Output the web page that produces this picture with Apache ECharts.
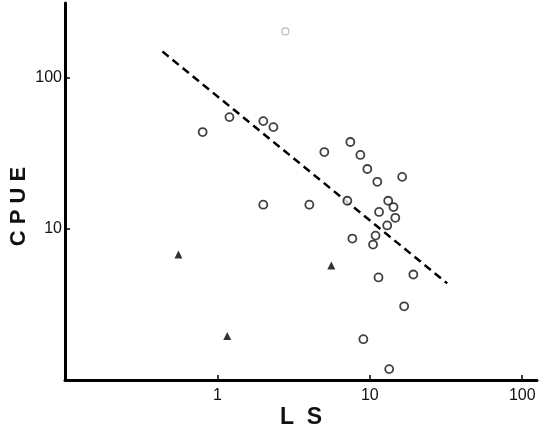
<!DOCTYPE html>
<html>
<head>
<meta charset="utf-8">
<title>CPUE vs LS</title>
<script src="https://cdn.jsdelivr.net/npm/echarts@6/dist/echarts.min.js"></script>
<style>
  html, body { margin: 0; padding: 0; background: #fff; }
  #container { width: 550px; height: 434px; }
</style>
</head>
<body>
<div id="container"></div>
<script>
// open circles (LS, CPUE)
var circleX = [0.80, 1.2, 2.0, 2.33, 2.0, 5.03, 7.45, 8.67, 9.63, 11.2, 16.3, 4.01, 7.12,
  13.2, 14.3, 11.5, 14.7, 13.0, 7.68, 10.9, 10.5, 11.4, 19.3, 16.8, 9.07, 13.4];
var circleY = [43.5, 54.6, 51.4, 46.9, 14.4, 32.1, 37.4, 30.7, 24.8, 20.4, 22.0, 14.4, 15.3,
  15.3, 13.9, 12.9, 11.8, 10.5, 8.6, 9.0, 7.85, 4.76, 4.98, 3.07, 1.86, 1.18];
// the faint circle near the top
var faintX = [2.79];
var faintY = [201];
// filled triangles
var triX = [0.555, 1.16, 5.59];
var triY = [6.75, 1.95, 5.71];
// dashed regression line end points
var fitX = [0.436, 32.2];
var fitY = [148, 4.35];

var xTicks = [1, 10, 100];
var yTicks = [10, 100];

function pairs(xs, ys) {
	var out = [];
	for (var i = 0; i < xs.length; i++) {
		out.push([xs[i], ys[i]]);
	}
	return out;
}

var dom = document.getElementById("container");
var myChart = echarts.init(dom);

var labelFont = {
	color: '#111',
	fontFamily: 'Liberation Sans',
	fontSize: 16
};

var option = {
	animation: false,
	grid: {
		left: 65,
		right: 13,
		top: 3,
		bottom: 54,
		outerBoundsMode: 'none'
	},
	xAxis: {
		type: 'log',
		logBase: 10,
		min: 0.1,
		max: 125,
		name: 'L  S',
		nameLocation: 'middle',
		nameGap: 26,
		nameMoveOverlap: false,
		nameTextStyle: {
			color: '#111',
			fontFamily: 'Liberation Sans',
			fontWeight: 'bold',
			fontSize: 23
		},
		splitLine: { show: false },
		axisLine: { lineStyle: { color: '#000', width: 3 } },
		axisTick: {
			inside: true,
			length: 5,
			customValues: xTicks,
			lineStyle: { color: '#000', width: 1.5 }
		},
		axisLabel: {
			margin: 8,
			customValues: xTicks,
			color: labelFont.color,
			fontFamily: labelFont.fontFamily,
			fontSize: labelFont.fontSize
		}
	},
	yAxis: {
		type: 'log',
		logBase: 10,
		min: 1,
		max: 310,
		name: 'C P U E',
		nameLocation: 'middle',
		nameGap: 35,
		nameMoveOverlap: false,
		nameTextStyle: {
			color: '#111',
			fontFamily: 'Liberation Sans',
			fontWeight: 'bold',
			fontSize: 22,
			padding: [0, 30, 0, 0]
		},
		splitLine: { show: false },
		axisLine: { lineStyle: { color: '#000', width: 3 } },
		axisTick: {
			inside: true,
			length: 5,
			customValues: yTicks,
			lineStyle: { color: '#000', width: 1.5 }
		},
		axisLabel: {
			margin: 3,
			customValues: yTicks,
			color: labelFont.color,
			fontFamily: labelFont.fontFamily,
			fontSize: labelFont.fontSize
		}
	},
	series: [{
		name: 'fit',
		type: 'line',
		data: pairs(fitX, fitY),
		symbol: 'none',
		lineStyle: { color: '#000', width: 2.5, type: [8, 5] },
		z: 1
	}, {
		name: 'circles',
		type: 'scatter',
		data: pairs(circleX, circleY),
		symbol: 'circle',
		symbolSize: 8,
		itemStyle: { color: '#fff', borderColor: '#111', borderWidth: 1.8 },
		z: 3
	}, {
		name: 'faint',
		type: 'scatter',
		data: pairs(faintX, faintY),
		symbol: 'circle',
		symbolSize: 7,
		itemStyle: { color: '#fff', borderColor: '#aaa', borderWidth: 1.2 },
		z: 3
	}, {
		name: 'triangles',
		type: 'scatter',
		data: pairs(triX, triY),
		symbol: 'triangle',
		symbolSize: 8,
		itemStyle: { color: '#000' },
		z: 3
	}]
};

if (option && typeof option === "object") {
	myChart.setOption(option, true);
}
</script>
</body>
</html>
